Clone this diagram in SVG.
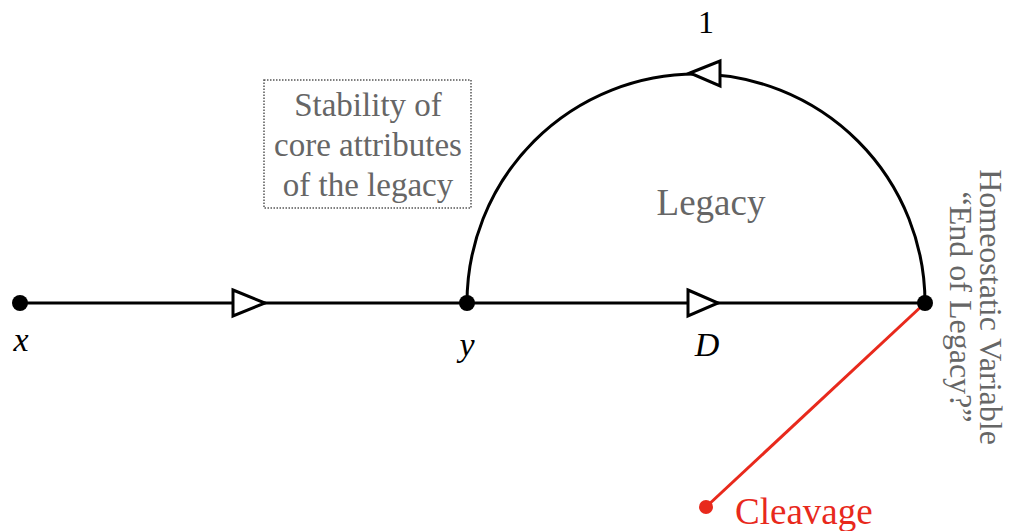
<svg xmlns="http://www.w3.org/2000/svg" width="1012" height="531" viewBox="0 0 1012 531">
<style>
.ln{stroke:#000;stroke-width:3;fill:none}
.tri{fill:#fff;stroke:#000;stroke-width:3;stroke-linejoin:miter}
.dot{fill:#000}
.g{font-family:"Liberation Serif","Times New Roman",serif;fill:#666}
.m{font-family:"Liberation Serif","Times New Roman",serif;fill:#000;font-style:italic}
</style>
<rect width="1012" height="531" fill="#fff"/>
<g id="connectors">
<line class="ln" x1="20" y1="303" x2="925" y2="303"/>
<path class="ln" d="M467,303 A229,229 0 0 1 925,303"/>
<polygon class="tri" points="233,290 265,303 233,316"/>
<polygon class="tri" points="688,290 718,303 688,316"/>
<polygon class="tri" points="690,73 720,61 720,86"/>
<line x1="925" y1="303" x2="706" y2="507" stroke="#e8291c" stroke-width="3"/>
</g>
<g id="node-x"><circle class="dot" cx="20" cy="303" r="8"/><text class="m" x="21" y="351" font-size="34" text-anchor="middle">x</text></g>
<g id="node-y"><circle class="dot" cx="467" cy="303" r="8"/><text class="m" x="467" y="356" font-size="34" text-anchor="middle">y</text></g>
<g id="node-end"><circle class="dot" cx="925" cy="303" r="8"/></g>
<g id="label-D"><text class="m" x="707" y="356" font-size="34" text-anchor="middle">D</text></g>
<g id="label-1"><text x="706" y="33" font-size="32" text-anchor="middle" font-family="Liberation Serif,serif" fill="#000">1</text></g>
<g id="label-legacy"><text class="g" x="711" y="215" font-size="37" text-anchor="middle">Legacy</text></g>
<g id="box">
<rect x="264" y="80" width="207" height="128" fill="none" stroke="#555" stroke-width="1.5" stroke-dasharray="1.5,1.5"/>
<text class="g" font-size="33" text-anchor="middle"><tspan x="368" y="116">Stability of</tspan><tspan x="368" y="156">core attributes</tspan><tspan x="368" y="196">of the legacy</tspan></text>
</g>
<g id="homeostatic">
<text class="g" font-size="32" text-anchor="middle" transform="translate(980,307) rotate(90)"><tspan x="0" y="0">Homeostatic Variable</tspan><tspan x="0" y="30">“End of Legacy?”</tspan></text>
</g>
<g id="cleavage"><circle cx="706" cy="507" r="7" fill="#e8291c"/><text x="735" y="524" font-size="37" font-family="Liberation Serif,serif" fill="#e8291c">Cleavage</text></g>
</svg>
